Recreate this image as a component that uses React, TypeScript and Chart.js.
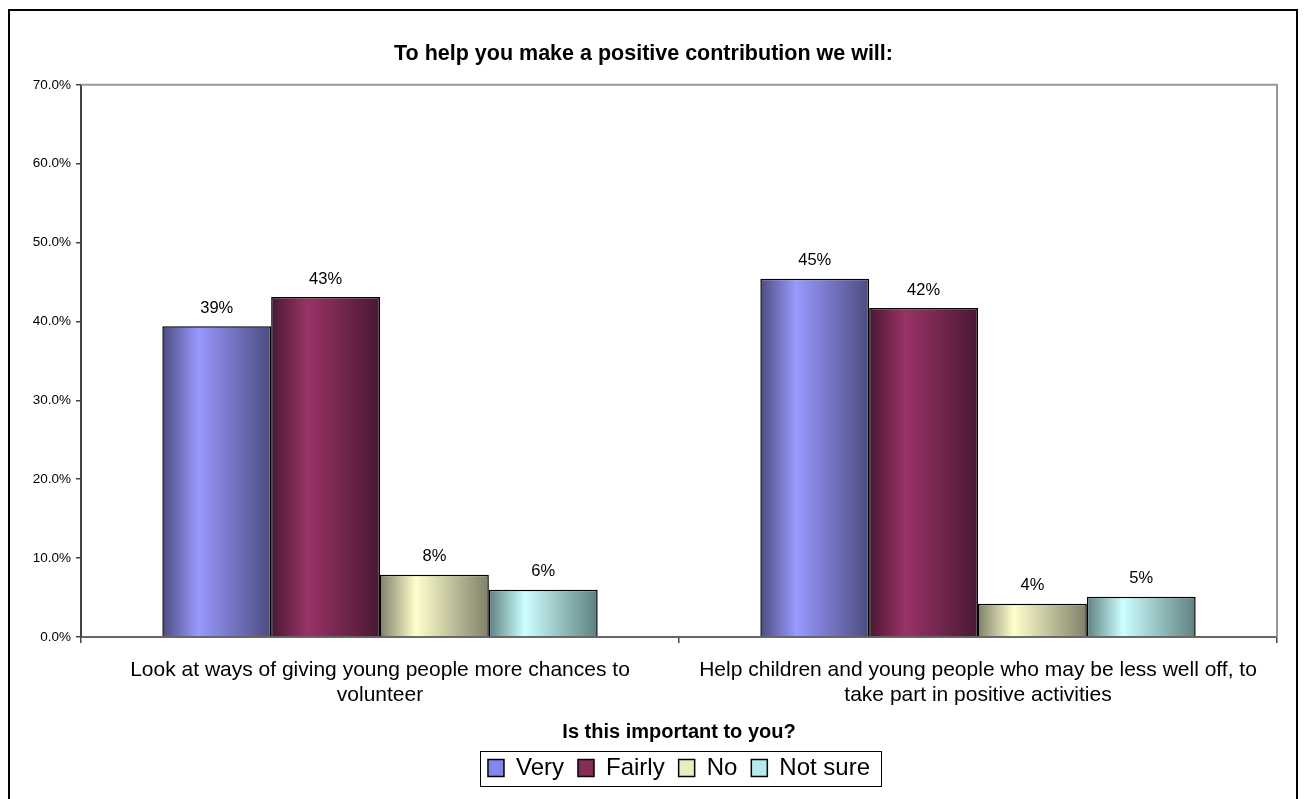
import React, { useEffect, useRef } from "react";
import { Chart, registerables } from "chart.js";

Chart.register(...registerables);

const TITLE = "To help you make a positive contribution we will:";
const X_TITLE = "Is this important to you?";
const CATEGORIES: string[][] = [
  ["Look at ways of giving young people more chances to", "volunteer"],
  ["Help children and young people who may be less well off, to", "take part in positive activities"],
];
const SERIES_NAMES = ["Very", "Fairly", "No", "Not sure"];
const VERY = [39.4, 45.4];
const FAIRLY = [43.1, 41.7];
const NO = [7.9, 4.2];
const NOT_SURE = [6.0, 5.1];
const Y_MIN = 0;
const Y_MAX = 70;
const Y_STEP = 10;

const LIGHT = ["#9999ff", "#993366", "#ffffcc", "#ccffff"];
const DARK = ["#4c4c80", "#4a1833", "#80806a", "#5f8080"];
const LEGEND_FILL = ["#8585ee", "#862c56", "#ececc0", "#b4ecec"];

const CAT_PCT = 0.728;
const FONT = "'Liberation Sans', Arial, Helvetica, sans-serif";

function barGradient(seriesIndex: number) {
  return (ctx: any) => {
    const chart = ctx.chart;
    const x = chart.scales && chart.scales.x;
    if (!x || ctx.type !== "data") return LIGHT[seriesIndex];
    const center = x.getPixelForTick(ctx.dataIndex);
    const catW = x.width / CATEGORIES.length;
    const bw = (catW * CAT_PCT) / SERIES_NAMES.length;
    const left = center - (catW * CAT_PCT) / 2 + ctx.datasetIndex * bw;
    if (!isFinite(left) || !isFinite(bw) || bw <= 0) return LIGHT[seriesIndex];
    const g = chart.ctx.createLinearGradient(left, 0, left + bw, 0);
    g.addColorStop(0, DARK[seriesIndex]);
    g.addColorStop(0.33, LIGHT[seriesIndex]);
    g.addColorStop(1, DARK[seriesIndex]);
    return g;
  };
}

const framePlugin = {
  id: "frame",
  beforeDatasetsDraw(chart: any) {
    const { ctx, chartArea } = chart;
    ctx.save();
    ctx.strokeStyle = "#999999";
    ctx.lineWidth = 2;
    ctx.beginPath();
    ctx.moveTo(chartArea.left, chartArea.top);
    ctx.lineTo(chartArea.right, chartArea.top);
    ctx.lineTo(chartArea.right, chartArea.bottom);
    ctx.stroke();
    ctx.restore();
  },
};

const valueLabelPlugin = {
  id: "valueLabels",
  afterDatasetsDraw(chart: any) {
    const { ctx } = chart;
    ctx.save();
    ctx.font = `16.5px ${FONT}`;
    ctx.fillStyle = "#000";
    ctx.textAlign = "center";
    ctx.textBaseline = "middle";
    chart.data.datasets.forEach((ds: any, di: number) => {
      const meta = chart.getDatasetMeta(di);
      meta.data.forEach((el: any, i: number) => {
        const v = ds.data[i];
        ctx.fillText(`${Math.round(v)}%`, el.x, el.y - 18);
      });
    });
    ctx.restore();
  },
};

const legendBoxPlugin = {
  id: "legendBox",
  afterDraw(chart: any) {
    const lg = chart.legend;
    if (!lg || !lg.legendHitBoxes || !lg.legendHitBoxes.length) return;
    const boxes = lg.legendHitBoxes;
    let minL = Infinity;
    let maxR = -Infinity;
    boxes.forEach((b: any) => {
      minL = Math.min(minL, b.left);
      maxR = Math.max(maxR, b.left + b.width);
    });
    const { ctx } = chart;
    ctx.save();
    ctx.strokeStyle = "#000";
    ctx.lineWidth = 1;
    ctx.strokeRect(Math.round(minL - 8) + 0.5, Math.round(lg.top + 9) + 0.5, Math.round(maxR - minL + 19), 35);
    ctx.restore();
  },
};

export default function App() {
  const ref = useRef<HTMLCanvasElement | null>(null);

  useEffect(() => {
    if (!ref.current) return;
    const seriesData = [VERY, FAIRLY, NO, NOT_SURE];
    const chart = new Chart(ref.current, {
      type: "bar",
      data: {
        labels: CATEGORIES,
        datasets: SERIES_NAMES.map((name, i) => ({
          label: name,
          data: seriesData[i],
          backgroundColor: barGradient(i),
          borderColor: "#000",
          borderWidth: 1.5,
          borderSkipped: "bottom",
          categoryPercentage: CAT_PCT,
          barPercentage: 1,
        })),
      },
      options: {
        responsive: false,
        animation: false,
        events: [],
        layout: { padding: { left: 0, right: 19, top: 0, bottom: 17 } },
        plugins: {
          tooltip: { enabled: false },
          title: {
            display: true,
            text: TITLE,
            color: "#000",
            font: { family: FONT, size: 21.5, weight: "bold", lineHeight: 1.2 },
            padding: { top: 30, bottom: 18 },
          },
          legend: {
            display: true,
            position: "bottom",
            fullSize: false,
            labels: {
              color: "#000",
              font: { family: FONT, size: 24 },
              boxWidth: 16,
              boxHeight: 17,
              padding: 14,
              generateLabels: () =>
                SERIES_NAMES.map((n, i) => ({
                  text: n,
                  fillStyle: LEGEND_FILL[i],
                  strokeStyle: "#000",
                  lineWidth: 1.5,
                  hidden: false,
                  datasetIndex: i,
                  fontColor: "#000",
                })),
            },
          },
        },
        scales: {
          x: {
            type: "category",
            offset: true,
            grid: {
              display: true,
              offset: true,
              drawOnChartArea: false,
              drawTicks: true,
              tickLength: 6,
              color: "#444",
              lineWidth: 1.5,
            },
            border: { display: true, color: "#666", width: 2 },
            ticks: {
              color: "#000",
              font: { family: FONT, size: 21, lineHeight: 25 / 21 },
              padding: 15,
              maxRotation: 0,
              minRotation: 0,
              autoSkip: false,
            },
            title: {
              display: true,
              text: X_TITLE,
              color: "#000",
              font: { family: FONT, size: 20, weight: "bold", lineHeight: 0.95 },
              padding: { top: 0, bottom: 0 },
            },
          },
          y: {
            min: Y_MIN,
            max: Y_MAX,
            afterFit: (s: any) => {
              s.width = 71;
            },
            grid: {
              display: true,
              drawOnChartArea: false,
              drawTicks: true,
              tickLength: 5,
              color: "#444",
              lineWidth: 1.5,
            },
            border: { display: true, color: "#444", width: 2 },
            ticks: {
              stepSize: Y_STEP,
              color: "#000",
              padding: 5,
              font: { family: FONT, size: 13.5 },
              callback: (v: any) => `${Number(v).toFixed(1)}%`,
            },
          },
        },
      },
      plugins: [framePlugin, valueLabelPlugin, legendBoxPlugin],
    });
    return () => chart.destroy();
  }, []);

  return (
    <div
      style={{
        position: "relative",
        top: 1,
        width: 1290,
        height: 800,
        boxSizing: "border-box",
        border: "2px solid #000",
        background: "#fff",
      }}
    >
      <canvas ref={ref} width={1286} height={796} style={{ display: "block" }} />
    </div>
  );
}
